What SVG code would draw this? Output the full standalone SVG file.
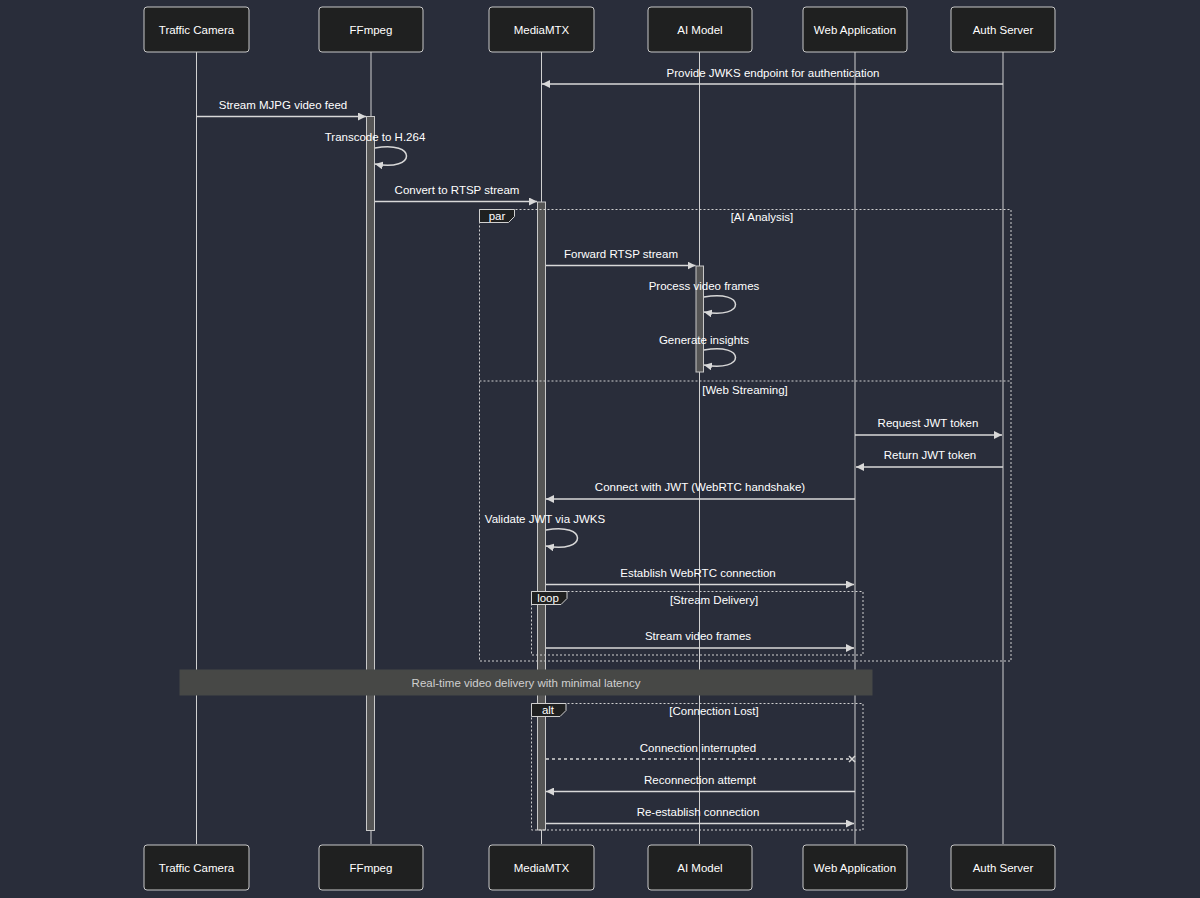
<svg xmlns="http://www.w3.org/2000/svg" width="1200" height="898" viewBox="0 0 1200 898">
<defs>
<style>
.bg{fill:#292d3a}
.actor rect{fill:#1f2020;stroke:#c8c8c8;stroke-width:1}
.actor text{fill:#ffffff;font-family:"Liberation Sans",Arial,sans-serif;font-size:11.5px;text-anchor:middle;dominant-baseline:central}
.life{stroke:#d0d0d0;stroke-width:1}
.act{fill:#555555;stroke:#c8c8c8;stroke-width:1}
.msg{stroke:#d8d8d8;stroke-width:1.5;fill:none}
.dash{stroke-dasharray:3,3}
.lbl{fill:#ffffff;font-family:"Liberation Sans",Arial,sans-serif;font-size:11.5px;text-anchor:middle;dominant-baseline:central}
.frame{fill:none;stroke:#d0d0d0;stroke-width:1;stroke-dasharray:2,2}
.tab{fill:#1f2020;stroke:#d0d0d0;stroke-width:1}
.note{fill:#474846;stroke:#474846}
.notetxt{fill:#cfcfcf;font-family:"Liberation Sans",Arial,sans-serif;font-size:11.5px;text-anchor:middle;dominant-baseline:central}
</style>
<marker id="ah" viewBox="0 0 10 10" refX="10" refY="5" markerWidth="8" markerHeight="8" markerUnits="userSpaceOnUse" orient="auto">
<path d="M0,0 L10,5 L0,10 z" fill="#d8d8d8"/>
</marker>
</defs>
<rect class="bg" x="0" y="0" width="1200" height="898"/>

<g id="lifelines">
<line class="life" x1="196.5" y1="52" x2="196.5" y2="844"/>
<line class="life" x1="371" y1="52" x2="371" y2="844"/>
<line class="life" x1="541.5" y1="52" x2="541.5" y2="844"/>
<line class="life" x1="699.5" y1="52" x2="699.5" y2="844"/>
<line class="life" x1="855" y1="52" x2="855" y2="844"/>
<line class="life" x1="1003" y1="52" x2="1003" y2="844"/>
</g>

<g id="actor-camera" class="actor"><rect x="144" y="7" width="105" height="45" rx="3"/><text x="196.5" y="29.5">Traffic Camera</text></g>
<g id="actor-ffmpeg" class="actor"><rect x="319" y="7" width="104" height="45" rx="3"/><text x="371" y="29.5">FFmpeg</text></g>
<g id="actor-mediamtx" class="actor"><rect x="489" y="7" width="105" height="45" rx="3"/><text x="541.5" y="29.5">MediaMTX</text></g>
<g id="actor-ai" class="actor"><rect x="648" y="7" width="104" height="45" rx="3"/><text x="700" y="29.5">AI Model</text></g>
<g id="actor-web" class="actor"><rect x="803" y="7" width="104" height="45" rx="3"/><text x="855" y="29.5">Web Application</text></g>
<g id="actor-auth" class="actor"><rect x="951" y="7" width="104" height="45" rx="3"/><text x="1003" y="29.5">Auth Server</text></g>

<g id="actor-camera-bottom" class="actor"><rect x="144" y="845" width="105" height="45" rx="3"/><text x="196.5" y="867.5">Traffic Camera</text></g>
<g id="actor-ffmpeg-bottom" class="actor"><rect x="319" y="845" width="104" height="45" rx="3"/><text x="371" y="867.5">FFmpeg</text></g>
<g id="actor-mediamtx-bottom" class="actor"><rect x="489" y="845" width="105" height="45" rx="3"/><text x="541.5" y="867.5">MediaMTX</text></g>
<g id="actor-ai-bottom" class="actor"><rect x="648" y="845" width="104" height="45" rx="3"/><text x="700" y="867.5">AI Model</text></g>
<g id="actor-web-bottom" class="actor"><rect x="803" y="845" width="104" height="45" rx="3"/><text x="855" y="867.5">Web Application</text></g>
<g id="actor-auth-bottom" class="actor"><rect x="951" y="845" width="104" height="45" rx="3"/><text x="1003" y="867.5">Auth Server</text></g>

<g id="activations">
<rect class="act" x="366.5" y="116.5" width="8" height="714"/>
<rect class="act" x="537.5" y="202" width="8" height="628"/>
<rect class="act" x="696" y="266" width="7.5" height="106"/>
</g>

<g id="frames">
<rect class="frame" x="479.5" y="209.5" width="531.5" height="451.5"/>
<line class="frame" x1="479.5" y1="381" x2="1011" y2="381"/>
<polygon class="tab" points="479.5,209.5 514.5,209.5 514.5,216.5 508.5,222.5 479.5,222.5"/>
<text class="lbl" x="497" y="216">par</text>
<text class="lbl" x="762" y="217">[AI Analysis]</text>
<text class="lbl" x="745" y="390">[Web Streaming]</text>

<rect class="frame" x="531.5" y="591.5" width="331.5" height="63.5"/>
<polygon class="tab" points="531.5,591.5 567,591.5 567,598.5 561,604.5 531.5,604.5"/>
<text class="lbl" x="548" y="598">loop</text>
<text class="lbl" x="714" y="600">[Stream Delivery]</text>

<rect class="frame" x="531.5" y="703.5" width="331.5" height="126.5"/>
<polygon class="tab" points="531.5,703.5 566,703.5 566,710.5 560,716.5 531.5,716.5"/>
<text class="lbl" x="548" y="710">alt</text>
<text class="lbl" x="714" y="711">[Connection Lost]</text>
</g>

<g id="note">
<rect class="note" x="180" y="670" width="692" height="25"/>
<text class="notetxt" x="526" y="682.5">Real-time video delivery with minimal latency</text>
</g>

<g id="connectors">
<line class="msg" x1="1003" y1="84" x2="542" y2="84" marker-end="url(#ah)"/>
<text class="lbl" x="773" y="73">Provide JWKS endpoint for authentication</text>

<line class="msg" x1="196.5" y1="116.5" x2="366" y2="116.5" marker-end="url(#ah)"/>
<text class="lbl" x="283" y="105">Stream MJPG video feed</text>

<path class="msg" d="M375,148 C417,140 417,172 375,164" marker-end="url(#ah)"/>
<text class="lbl" x="375" y="137">Transcode to H.264</text>

<line class="msg" x1="375" y1="201.5" x2="537" y2="201.5" marker-end="url(#ah)"/>
<text class="lbl" x="457" y="190">Convert to RTSP stream</text>

<line class="msg" x1="546" y1="265.5" x2="695.5" y2="265.5" marker-end="url(#ah)"/>
<text class="lbl" x="621" y="254">Forward RTSP stream</text>

<path class="msg" d="M704,297 C746,289 746,320 704,312" marker-end="url(#ah)"/>
<text class="lbl" x="704" y="286">Process video frames</text>

<path class="msg" d="M704,350 C746,342 746,373 704,365" marker-end="url(#ah)"/>
<text class="lbl" x="704" y="340">Generate insights</text>

<line class="msg" x1="855" y1="435" x2="1002" y2="435" marker-end="url(#ah)"/>
<text class="lbl" x="928" y="423">Request JWT token</text>

<line class="msg" x1="1003" y1="467" x2="856" y2="467" marker-end="url(#ah)"/>
<text class="lbl" x="930" y="455">Return JWT token</text>

<line class="msg" x1="855" y1="499" x2="546" y2="499" marker-end="url(#ah)"/>
<text class="lbl" x="700" y="487">Connect with JWT (WebRTC handshake)</text>

<path class="msg" d="M546,530 C588,522 588,554 546,546" marker-end="url(#ah)"/>
<text class="lbl" x="545" y="519">Validate JWT via JWKS</text>

<line class="msg" x1="546" y1="584.5" x2="854" y2="584.5" marker-end="url(#ah)"/>
<text class="lbl" x="698" y="573">Establish WebRTC connection</text>

<line class="msg" x1="546" y1="648" x2="854" y2="648" marker-end="url(#ah)"/>
<text class="lbl" x="698" y="636">Stream video frames</text>

<line class="msg dash" x1="546" y1="759" x2="850" y2="759"/>
<path class="msg" d="M849,756 L855,762 M855,756 L849,762" stroke-width="1.2"/>
<text class="lbl" x="698" y="748">Connection interrupted</text>

<line class="msg" x1="855" y1="791.5" x2="546" y2="791.5" marker-end="url(#ah)"/>
<text class="lbl" x="700" y="780">Reconnection attempt</text>

<line class="msg" x1="546" y1="823.5" x2="854" y2="823.5" marker-end="url(#ah)"/>
<text class="lbl" x="698" y="812">Re-establish connection</text>
</g>
</svg>
